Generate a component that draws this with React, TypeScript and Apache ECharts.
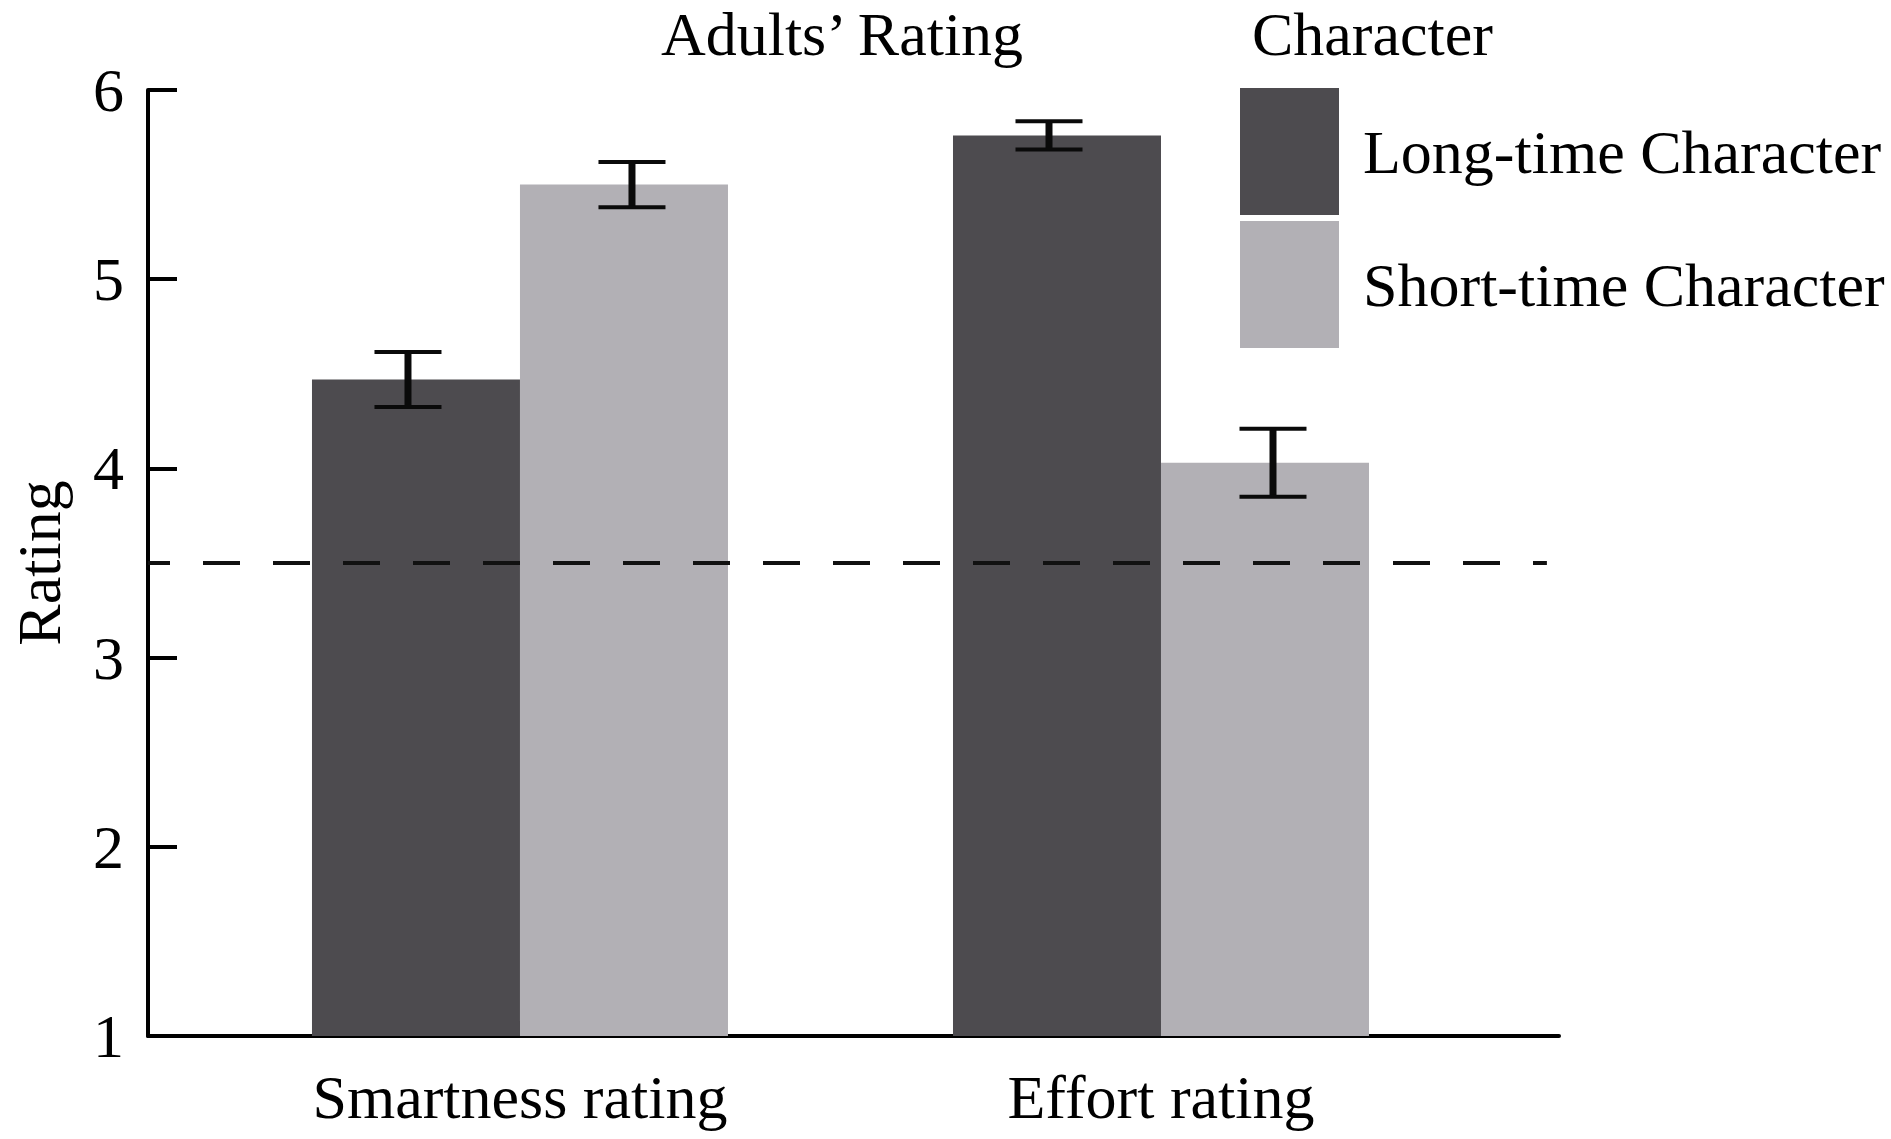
import React, { useEffect, useRef } from "react";
import * as echarts from "echarts";

const categories = ["Smartness rating", "Effort rating"];
const categoryPositions = [1, 2];
const seriesNames = ["Long-time Character", "Short-time Character"];
const longTimeMeans = [4.47, 5.76];
const shortTimeMeans = [5.5, 4.03];
const longTimeErrors = [0.145, 0.075];
const shortTimeErrors = [0.12, 0.18];
const yTicks = [1, 2, 3, 4, 5, 6];
const chanceLevel = 3.5;
const chanceLineX = [0.4197, 2.602];

const DARK = "#4d4b4f";
const LIGHT = "#b2b0b5";
const FONT = "Liberation Serif";
const BAR_W = 208;
const ERR_OFFSET = 112;
const CAP_W = 67;

function barSeries(name: string, means: number[], color: string, side: number) {
  return {
    type: "custom",
    name,
    itemStyle: { color },
    data: categoryPositions.map((x, i) => [x, means[i]]),
    renderItem: (params: any, api: any) => {
      const x = api.value(0);
      const v = api.value(1);
      const top = api.coord([x, v]);
      const base = api.coord([x, yTicks[0]]);
      const left = side < 0 ? top[0] - BAR_W : top[0];
      return {
        type: "rect",
        shape: { x: left, y: top[1], width: BAR_W, height: base[1] - top[1] },
        style: { fill: color },
      };
    },
    z: 2,
  };
}

function errorSeries(means: number[], errs: number[], side: number) {
  return {
    type: "custom",
    name: "err" + side,
    data: categoryPositions.map((x, i) => [x, means[i], errs[i]]),
    renderItem: (params: any, api: any) => {
      const x = api.value(0);
      const m = api.value(1);
      const e = api.value(2);
      const hi = api.coord([x, m + e]);
      const lo = api.coord([x, m - e]);
      const cx = hi[0] + side * ERR_OFFSET;
      const st = { stroke: "#0a0a0a", lineWidth: 4 };
      return {
        type: "group",
        children: [
          { type: "line", shape: { x1: cx, y1: hi[1], x2: cx, y2: lo[1] }, style: { stroke: "#0a0a0a", lineWidth: 7 } },
          { type: "line", shape: { x1: cx - CAP_W / 2, y1: hi[1], x2: cx + CAP_W / 2, y2: hi[1] }, style: st },
          { type: "line", shape: { x1: cx - CAP_W / 2, y1: lo[1], x2: cx + CAP_W / 2, y2: lo[1] }, style: st },
        ],
      };
    },
    z: 4,
  };
}

export default function App() {
  const ref = useRef<HTMLDivElement>(null);
  useEffect(() => {
    if (!ref.current) return;
    const chart = echarts.init(ref.current, null, { renderer: "svg" });
    chart.setOption({
      animation: false,
      backgroundColor: "#ffffff",
      textStyle: { fontFamily: FONT },
      grid: { left: 148, right: 332, top: 90, bottom: 103, containLabel: false, outerBoundsMode: "none" },
      graphic: [
        {
          type: "text",
          x: 842,
          y: 34,
          style: { text: "Adults’ Rating", fontSize: 62, fontFamily: FONT, fill: "#000", textAlign: "center", textVerticalAlign: "middle" },
        },
        {
          type: "text",
          x: 1252,
          y: 34,
          style: { text: "Character", fontSize: 62, fontFamily: FONT, fill: "#000", textAlign: "left", textVerticalAlign: "middle" },
        },
      ],
      legend: {
        orient: "vertical",
        left: 1240,
        top: 88,
        padding: 0,
        itemWidth: 99,
        itemHeight: 127,
        itemGap: 6,
        selectedMode: false,
        data: [
          { name: seriesNames[0], icon: "rect", itemStyle: { color: DARK } },
          { name: seriesNames[1], icon: "rect", itemStyle: { color: LIGHT } },
        ],
        textStyle: { fontSize: 62, fontFamily: FONT, color: "#000", padding: [0, 0, 0, 19] },
      },
      xAxis: {
        type: "value",
        min: 0.4197,
        max: 2.6209,
        splitLine: { show: false },
        axisLine: { show: true, lineStyle: { color: "#000", width: 4 } },
        axisTick: { show: true, inside: true, length: 15, customValues: categoryPositions, lineStyle: { color: "#000", width: 3 } },
        axisLabel: {
          show: true,
          customValues: categoryPositions,
          formatter: (v: number) => categories[Math.round(v) - 1] ?? "",
          fontSize: 62,
          fontFamily: FONT,
          color: "#000",
          margin: 30,
        },
      },
      yAxis: {
        type: "value",
        min: 1,
        max: 6,
        interval: 1,
        name: "Rating",
        nameLocation: "middle",
        nameGap: 78,
        nameTextStyle: { fontSize: 62, fontFamily: FONT, color: "#000" },
        splitLine: { show: false },
        axisLine: { show: true, lineStyle: { color: "#000", width: 4 } },
        axisTick: { show: true, inside: true, length: 29, lineStyle: { color: "#000", width: 4 } },
        axisLabel: { fontSize: 62, fontFamily: FONT, color: "#000", margin: 24 },
      },
      series: [
        barSeries(seriesNames[0], longTimeMeans, DARK, -1),
        barSeries(seriesNames[1], shortTimeMeans, LIGHT, 1),
        {
          type: "line",
          name: "chance",
          data: chanceLineX.map((x) => [x, chanceLevel]),
          symbol: "none",
          lineStyle: { color: "#111", width: 4, type: [37, 33], dashOffset: 15 },
          z: 3,
        },
        errorSeries(longTimeMeans, longTimeErrors, -1),
        errorSeries(shortTimeMeans, shortTimeErrors, 1),
      ],
    });
    return () => chart.dispose();
  }, []);
  return <div ref={ref} style={{ position: "absolute", left: 0, top: 0, width: 1891, height: 1139 }} />;
}
